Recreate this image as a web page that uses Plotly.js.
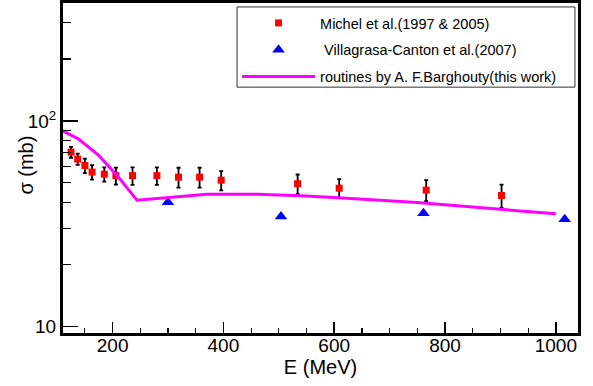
<!DOCTYPE html>
<html>
<head>
<meta charset="utf-8">
<script src="https://cdn.plot.ly/plotly-3.0.1.min.js"></script>
<style>
html,body{margin:0;padding:0;background:#fff;}
#chart{width:593px;height:386px;}
</style>
</head>
<body>
<div id="chart"></div>
<script>
// Michel et al. (1997 & 2005)
const michelE = [125, 137, 150, 163, 185, 206, 236, 280, 319, 357, 396, 534, 609, 766, 902];
const michelSigma = [70.5, 65.2, 60.7, 56.4, 55.1, 54.2, 54.2, 54.2, 53.3, 53.3, 51.5, 49.5, 47.1, 46.1, 43.4];
const michelErr = [4.3, 4.1, 4.9, 4.6, 4.4, 5.1, 5.3, 5.3, 5.9, 5.9, 5.5, 5.4, 5.0, 5.4, 5.6];

// Villagrasa-Canton et al. (2007)
const villE = [300, 504, 761, 1016];
const villSigma = [40.3, 34.3, 35.6, 33.3];

// routines by A. F. Barghouty (this work)
const curveE = [110, 138, 175, 210, 244, 300, 370, 460, 540, 600, 750, 900, 1000];
const curveSigma = [89.4, 81.8, 68.0, 53.5, 41.2, 42.5, 44.0, 44.0, 43.3, 42.4, 40.1, 37.2, 35.4];

// axis ticks
const yMajorVals = [10, 100];
const yMajorText = ['10', '10<sup>2</sup>'];
const yMinorVals = [20, 30, 40, 50, 60, 70, 80, 90, 200, 300];

const FONT = 'Liberation Sans, Arial, Helvetica, sans-serif';

const traces = [
  {
    x: michelE, y: michelSigma, type: 'scatter', mode: 'markers',
    name: 'Michel et al.(1997 &amp; 2005)', legendgroup: 'a',
    marker: {symbol: 'square', color: '#ff0000', size: 7},
    error_y: {type: 'data', array: michelErr, visible: true, color: '#000', thickness: 1.8, width: 2}
  },
  {
    x: villE, y: villSigma, type: 'scatter', mode: 'markers',
    name: ' Villagrasa-Canton et al.(2007)', legendgroup: 'b',
    marker: {symbol: 'triangle-up', color: '#0000ff', size: 11}
  },
  {
    x: curveE, y: curveSigma, type: 'scatter', mode: 'lines',
    name: 'routines by A. F.Barghouty(this work)', legendgroup: 'c',
    line: {color: '#ff00ff', width: 3}
  }
];

const layout = {
  width: 593, height: 386,
  margin: {l: 63, r: 15, t: 3, b: 53},
  paper_bgcolor: '#fff', plot_bgcolor: '#fff',
  font: {family: FONT, color: '#000', size: 19},
  showlegend: true,
  legend: {
    x: 0.338, y: 0.988, xanchor: 'left', yanchor: 'top',
    bgcolor: 'rgba(0,0,0,0)', borderwidth: 0,
    font: {family: FONT, size: 14.5, color: '#000'},
    itemwidth: 73, tracegroupgap: 5
  },
  shapes: [
    {type: 'rect', xref: 'paper', yref: 'paper', x0: 0.338, x1: 0.994, y0: 0.745, y1: 0.988,
     line: {color: '#333', width: 1}, fillcolor: '#fff', layer: 'above'}
  ],
  xaxis: {
    range: [110.5, 1040], tick0: 0, dtick: 200,
    ticks: 'inside', ticklen: 11, tickwidth: 1.5, tickcolor: '#000',
    minor: {dtick: 50, tick0: 0, ticks: 'inside', ticklen: 5, tickwidth: 1.2, tickcolor: '#000'},
    showline: true, linewidth: 3, linecolor: '#000', mirror: true,
    showgrid: false, zeroline: false,
    tickfont: {size: 19}, ticklabelstandoff: -7,
    title: {text: 'E (MeV)', font: {size: 20}, standoff: 2}
  },
  yaxis: {
    type: 'log', range: [Math.log10(9.32), Math.log10(374)],
    tickmode: 'array', tickvals: yMajorVals, ticktext: yMajorText,
    ticks: 'inside', ticklen: 15, tickwidth: 1.5, tickcolor: '#000',
    minor: {tickmode: 'array', tickvals: yMinorVals, ticks: 'inside', ticklen: 8, tickwidth: 1.2, tickcolor: '#000'},
    showline: true, linewidth: 3, linecolor: '#000', mirror: true,
    showgrid: false, zeroline: false,
    tickfont: {size: 19}
  },
  annotations: [
    {text: 'σ (mb)', xref: 'paper', yref: 'paper', x: -0.072, y: 0.51,
     xanchor: 'center', yanchor: 'middle', textangle: -90, showarrow: false,
     font: {size: 20, family: FONT}}
  ]
};

Plotly.newPlot('chart', traces, layout, {displayModeBar: false, staticPlot: true});
</script>
</body>
</html>
